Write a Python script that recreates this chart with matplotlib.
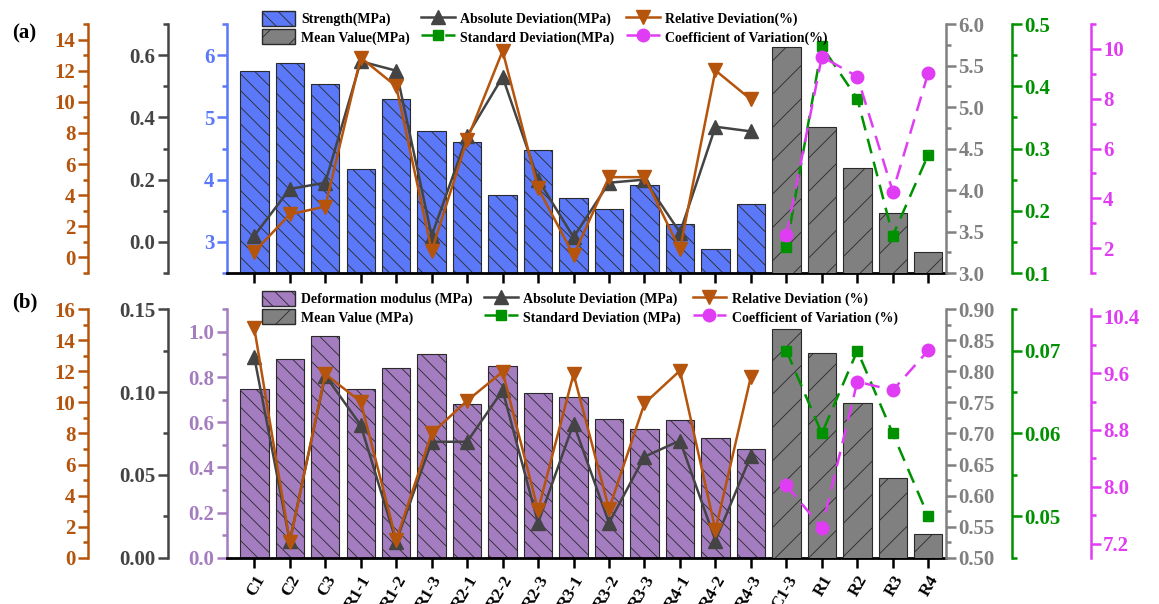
import matplotlib
matplotlib.use("Agg")
import matplotlib.pyplot as plt
from matplotlib.ticker import MultipleLocator, FixedLocator, FormatStrFormatter
from matplotlib.patches import Patch

plt.rcParams['font.family'] = 'Liberation Serif'
plt.rcParams['font.weight'] = 'bold'
plt.rcParams['hatch.linewidth'] = 0.6

samples = ["C1", "C2", "C3", "R1-1", "R1-2", "R1-3", "R2-1", "R2-2", "R2-3",
           "R3-1", "R3-2", "R3-3", "R4-1", "R4-2", "R4-3"]
groups = ["C1-3", "R1", "R2", "R3", "R4"]
labels = samples + groups

# (a) strength
strength = [5.74, 5.88, 5.53, 4.17, 5.30, 4.78, 4.61, 3.75, 4.47, 3.71, 3.53, 3.91, 3.29, 2.89, 3.61]
strength_mean = [5.72, 4.76, 4.27, 3.72, 3.25]
strength_abs = [0.02, 0.17, 0.19, 0.58, 0.55, 0.02, 0.34, 0.53, 0.20, 0.015, 0.19, 0.20, 0.03, 0.37, 0.355]
strength_rel = [0.36, 2.77, 3.27, 12.84, 11.0, 0.43, 7.57, 13.27, 4.45, 0.15, 5.16, 5.16, 0.52, 12.02, 10.15]
strength_std = [0.141, 0.464, 0.380, 0.160, 0.290]
strength_cv = [2.51, 9.69, 8.89, 4.27, 9.04]

# (b) deformation modulus
modulus = [0.748, 0.880, 0.982, 0.748, 0.840, 0.902, 0.679, 0.850, 0.729, 0.710, 0.612, 0.571, 0.611, 0.531, 0.481]
modulus_mean = [0.869, 0.830, 0.749, 0.629, 0.538]
modulus_abs = [0.121, 0.010, 0.110, 0.080, 0.0097, 0.070, 0.070, 0.101, 0.021, 0.081, 0.021, 0.061, 0.0707, 0.0103, 0.0616]
modulus_rel = [14.78, 1.03, 11.83, 10.05, 1.14, 8.01, 10.11, 11.98, 3.07, 11.83, 3.14, 9.94, 12.05, 1.78, 11.66]
modulus_std = [0.070, 0.060, 0.070, 0.060, 0.050]
modulus_cv = [8.02, 7.42, 9.48, 9.36, 9.92]

ORANGE = '#B5540C'
DARK = '#444444'
BLUE = '#5A78F8'
GRAY = '#808080'
GREEN = '#009100'
MAGENTA = '#E03CF4'
PURPLE = '#A47CC0'
EDGE = '#2a2a2a'

xs = list(range(len(samples)))
xg = list(range(len(samples), len(labels)))


def style_y(ax, side, pos, color, lim, major, minor, fmt):
    ax.set_ylim(lim)
    for s in ax.spines.values():
        s.set_visible(False)
    sp = ax.spines[side]
    sp.set_visible(True)
    sp.set_position(('axes', pos))
    sp.set_color(color)
    sp.set_linewidth(1.8)
    ax.yaxis.set_ticks_position(side)
    ax.yaxis.set_label_position(side)
    ax.yaxis.set_major_locator(major)
    ax.yaxis.set_minor_locator(minor)
    ax.yaxis.set_major_formatter(FormatStrFormatter(fmt))
    ax.tick_params(axis='y', which='both', colors=color, width=1.8, direction='out',
                   labelsize=15, pad=2)
    ax.tick_params(axis='y', which='major', length=7)
    ax.tick_params(axis='y', which='minor', length=3.5)


def draw_panel(ax, vals, means, absd, reld, std, cv, bar_color, axes_cfg, show_labels):
    ax.set_xlim(-0.77, 19.5)
    ax.bar(xs, vals, width=0.8, color=bar_color, edgecolor=EDGE, linewidth=0.8, hatch='\\\\')
    style_y(ax, 'left', 0, bar_color, *axes_cfg['main'])
    ax.spines['bottom'].set_visible(True)
    ax.spines['bottom'].set_color('black')
    ax.spines['bottom'].set_linewidth(2)
    ax.set_xticks(range(len(labels)))
    if show_labels:
        ax.set_xticklabels(labels, rotation=60, ha='right', rotation_mode='anchor', fontsize=12.5)
    else:
        ax.set_xticklabels([])
    ax.tick_params(axis='x', length=7, width=1.8, direction='out', pad=4)

    ax_mean = ax.twinx()
    ax_mean.bar(xg, means, width=0.8, color=GRAY, edgecolor=EDGE, linewidth=0.8, hatch='/')
    style_y(ax_mean, 'right', 1, GRAY, *axes_cfg['mean'])

    ax_abs = ax.twinx()
    l_abs, = ax_abs.plot(xs, absd, color=DARK, lw=1.8, marker='^', ms=9.5)
    style_y(ax_abs, 'left', -0.0821, DARK, *axes_cfg['abs'])

    ax_rel = ax.twinx()
    l_rel, = ax_rel.plot(xs, reld, color=ORANGE, lw=1.8, marker='v', ms=9.5)
    style_y(ax_rel, 'left', -0.1933, ORANGE, *axes_cfg['rel'])

    ax_std = ax.twinx()
    l_std, = ax_std.plot(xg, std, color=GREEN, lw=1.8, ls=(0, (6, 3.5)), marker='s', ms=7.5)
    style_y(ax_std, 'right', 1.0914, GREEN, *axes_cfg['std'])

    ax_cv = ax.twinx()
    l_cv, = ax_cv.plot(xg, cv, color=MAGENTA, lw=1.8, ls=(0, (6, 3.5)), marker='o', ms=9)
    style_y(ax_cv, 'right', 1.2013, MAGENTA, *axes_cfg['cv'])
    for a in (ax_std, ax_cv):
        a.get_lines()[0].set_clip_on(False)

    handles = [Patch(facecolor=bar_color, edgecolor=EDGE, hatch='\\\\'),
               Patch(facecolor=GRAY, edgecolor=EDGE, hatch='/'),
               l_abs, l_std, l_rel, l_cv]
    return handles


fig = plt.figure(figsize=(11.59, 6.04), dpi=100)
ax_a = fig.add_axes([0.19586, 0.54801, 0.62036, 0.41225])
ax_b = fig.add_axes([0.19586, 0.07666, 0.62036, 0.41126])

cfg_a = {
    'main': ((2.5, 6.5), MultipleLocator(1), MultipleLocator(0.5), '%d'),
    'mean': ((3.0, 6.0), MultipleLocator(0.5), MultipleLocator(0.25), '%.1f'),
    'abs': ((-0.1, 0.7), MultipleLocator(0.2), MultipleLocator(0.1), '%.1f'),
    'rel': ((-1, 15), MultipleLocator(2), MultipleLocator(1), '%d'),
    'std': ((0.1, 0.5), MultipleLocator(0.1), MultipleLocator(0.05), '%.1f'),
    'cv': ((1, 11), MultipleLocator(2), MultipleLocator(1), '%d'),
}
cfg_b = {
    'main': ((0, 1.1), MultipleLocator(0.2), MultipleLocator(0.1), '%.1f'),
    'mean': ((0.5, 0.9), MultipleLocator(0.05), MultipleLocator(0.025), '%.2f'),
    'abs': ((0, 0.15), MultipleLocator(0.05), MultipleLocator(0.025), '%.2f'),
    'rel': ((0, 16), MultipleLocator(2), MultipleLocator(1), '%d'),
    'std': ((0.045, 0.075), MultipleLocator(0.01), MultipleLocator(0.005), '%.2f'),
    'cv': ((7.0, 10.5), FixedLocator([7.2, 8.0, 8.8, 9.6, 10.4]),
           FixedLocator([7.6, 8.4, 9.2, 10.0]), '%.1f'),
}

h_a = draw_panel(ax_a, strength, strength_mean, strength_abs, strength_rel,
                 strength_std, strength_cv, BLUE, cfg_a, False)
h_b = draw_panel(ax_b, modulus, modulus_mean, modulus_abs, modulus_rel,
                 modulus_std, modulus_cv, PURPLE, cfg_b, True)

names_a = ["Strength(MPa)", "Mean Value(MPa)", "Absolute Deviation(MPa)",
           "Standard Deviation(MPa)", "Relative Deviation(%)", "Coefficient of Variation(%)"]
names_b = ["Deformation modulus (MPa)", "Mean Value (MPa)", "Absolute Deviation (MPa)",
           "Standard Deviation (MPa)", "Relative Deviation (%)", "Coefficient of Variation (%)"]

leg_kw = dict(ncol=3, loc='upper left', frameon=False, fontsize=10, handlelength=2.4,
              handleheight=1.3, handletextpad=0.4, columnspacing=0.85, labelspacing=0.2,
              borderpad=0, borderaxespad=0)
fig.legend(h_a, names_a, bbox_to_anchor=(262 / 1159, 1 - 11 / 604), **leg_kw)
fig.legend(h_b, names_b, bbox_to_anchor=(262 / 1159, 1 - 291 / 604), **leg_kw)

fig.text(12 / 1159, 1 - 33 / 604, "(a)", fontsize=15, fontweight='bold', va='center')
fig.text(12 / 1159, 1 - 302 / 604, "(b)", fontsize=15, fontweight='bold', va='center')

fig.savefig("out.png", dpi=100)
